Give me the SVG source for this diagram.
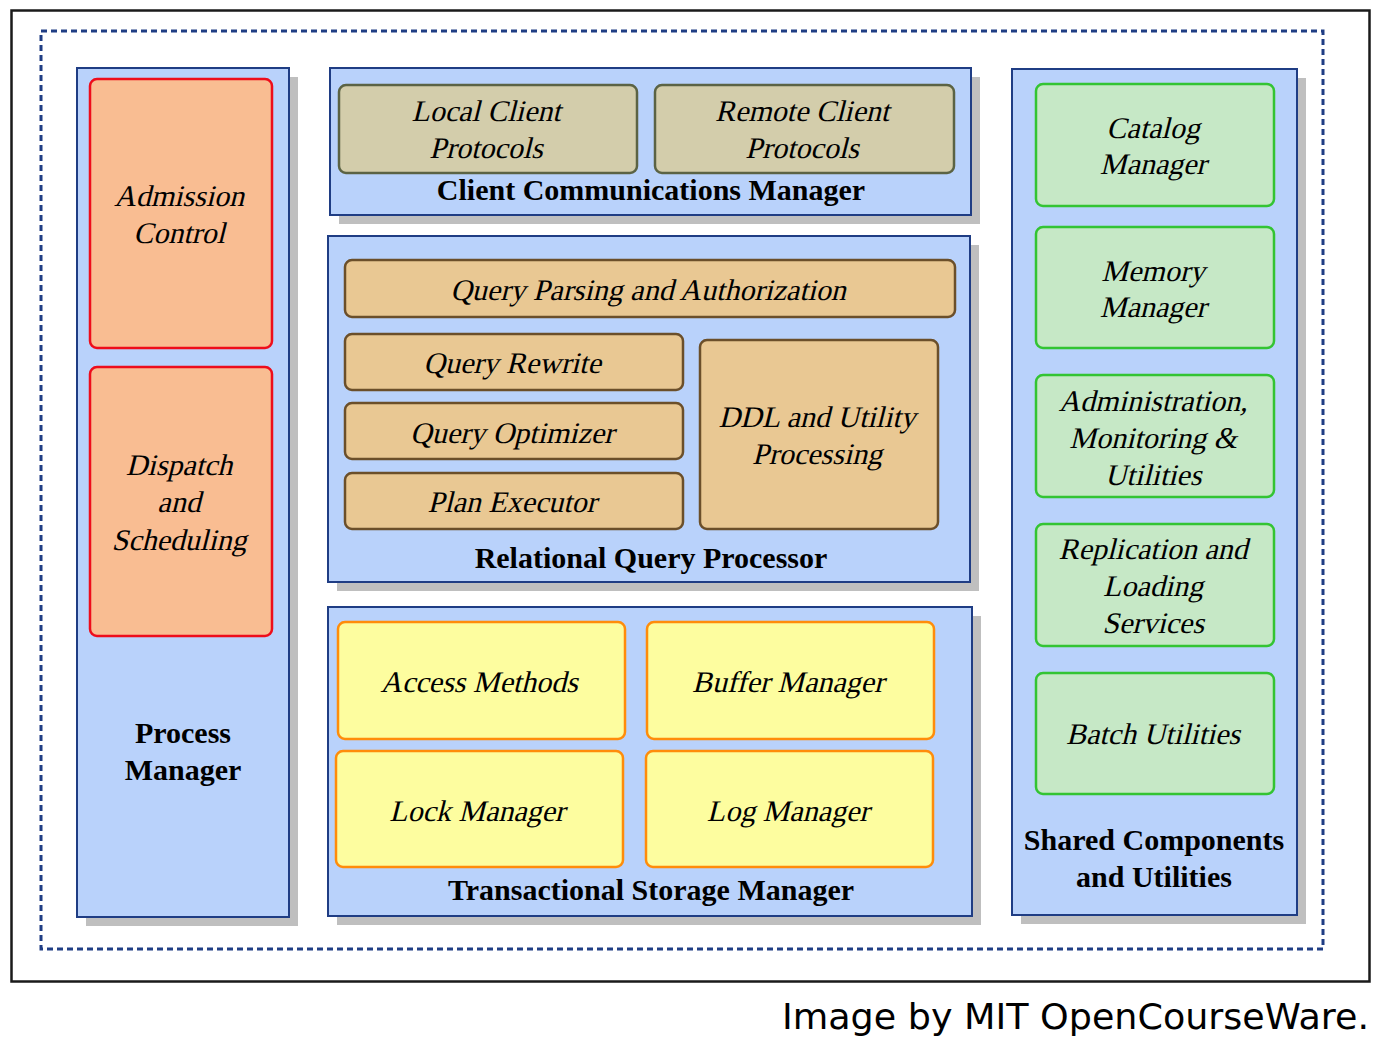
<svg xmlns="http://www.w3.org/2000/svg" width="1385" height="1045" viewBox="0 0 1385 1045">
<style>
.panel{fill:#b9d2fb;stroke:#1f3d84;stroke-width:2}
.shadow{fill:#bfbfbf}
.red{fill:#f9bd92;stroke:#ee0d1b;stroke-width:2.5}
.olive{fill:#d3cdab;stroke:#5b6344;stroke-width:2.5}
.tan{fill:#e9c893;stroke:#6b4f2a;stroke-width:2.5}
.yel{fill:#fdfd9f;stroke:#ff8c0a;stroke-width:2.5}
.grn{fill:#c6e8c6;stroke:#33c433;stroke-width:2.5}
.it{font-family:"Liberation Serif","Times New Roman",serif;font-size:30px;fill:#000;text-anchor:middle}
.bd{font-family:"Liberation Serif","Times New Roman",serif;font-weight:bold;font-size:30px;fill:#000;text-anchor:middle}
</style>
<rect x="0" y="0" width="1385" height="1045" fill="#ffffff"/>
<rect x="11.5" y="10.5" width="1358" height="971" fill="#ffffff" stroke="#1a1a1a" stroke-width="2.5"/>
<rect x="41" y="31" width="1282" height="918" fill="none" stroke="#1f3d84" stroke-width="3" stroke-dasharray="6 4"/>

<g id="process-manager">
<rect class="shadow" x="86" y="77" width="212" height="849"/>
<rect class="panel" x="77" y="68" width="212" height="849"/>
<text class="bd" x="183" y="743">Process</text>
<text class="bd" x="183" y="780">Manager</text>
</g>
<g id="admission-control">
<rect class="red" x="90" y="79" width="182" height="269" rx="7"/>
<text class="it" transform="translate(179,206) skewX(-14)">Admission</text>
<text class="it" transform="translate(179,243) skewX(-14)">Control</text>
</g>
<g id="dispatch-scheduling">
<rect class="red" x="90" y="367" width="182" height="269" rx="7"/>
<text class="it" transform="translate(179,475) skewX(-14)">Dispatch</text>
<text class="it" transform="translate(179,512) skewX(-14)">and</text>
<text class="it" transform="translate(179,550) skewX(-14)">Scheduling</text>
</g>

<g id="client-communications-manager">
<rect class="shadow" x="339" y="77" width="641" height="147"/>
<rect class="panel" x="330" y="68" width="641" height="147"/>
<text class="bd" x="651" y="200">Client Communications Manager</text>
</g>
<g id="local-client-protocols">
<rect class="olive" x="339" y="85" width="298" height="88" rx="7"/>
<text class="it" transform="translate(486,121) skewX(-14)">Local Client</text>
<text class="it" transform="translate(486,158) skewX(-14)">Protocols</text>
</g>
<g id="remote-client-protocols">
<rect class="olive" x="655" y="85" width="299" height="88" rx="7"/>
<text class="it" transform="translate(802,121) skewX(-14)">Remote Client</text>
<text class="it" transform="translate(802,158) skewX(-14)">Protocols</text>
</g>

<g id="relational-query-processor">
<rect class="shadow" x="337" y="245" width="642" height="346"/>
<rect class="panel" x="328" y="236" width="642" height="346"/>
<text class="bd" x="651" y="568">Relational Query Processor</text>
</g>
<g id="query-parsing">
<rect class="tan" x="345" y="260" width="610" height="57" rx="7"/>
<text class="it" transform="translate(648,300) skewX(-14)">Query Parsing and Authorization</text>
</g>
<g id="query-rewrite">
<rect class="tan" x="345" y="334" width="338" height="56" rx="7"/>
<text class="it" transform="translate(512,373) skewX(-14)">Query Rewrite</text>
</g>
<g id="query-optimizer">
<rect class="tan" x="345" y="403" width="338" height="56" rx="7"/>
<text class="it" transform="translate(512,443) skewX(-14)">Query Optimizer</text>
</g>
<g id="plan-executor">
<rect class="tan" x="345" y="473" width="338" height="56" rx="7"/>
<text class="it" transform="translate(512,512) skewX(-14)">Plan Executor</text>
</g>
<g id="ddl-utility">
<rect class="tan" x="700" y="340" width="238" height="189" rx="7"/>
<text class="it" transform="translate(817,427) skewX(-14)">DDL and Utility</text>
<text class="it" transform="translate(817,464) skewX(-14)">Processing</text>
</g>

<g id="transactional-storage-manager">
<rect class="shadow" x="337" y="616" width="644" height="309"/>
<rect class="panel" x="328" y="607" width="644" height="309"/>
<text class="bd" x="651" y="900">Transactional Storage Manager</text>
</g>
<g id="access-methods">
<rect class="yel" x="338" y="622" width="287" height="117" rx="7"/>
<text class="it" transform="translate(479,692) skewX(-14)">Access Methods</text>
</g>
<g id="buffer-manager">
<rect class="yel" x="647" y="622" width="287" height="117" rx="7"/>
<text class="it" transform="translate(788,692) skewX(-14)">Buffer Manager</text>
</g>
<g id="lock-manager">
<rect class="yel" x="336" y="751" width="287" height="116" rx="7"/>
<text class="it" transform="translate(477,821) skewX(-14)">Lock Manager</text>
</g>
<g id="log-manager">
<rect class="yel" x="646" y="751" width="287" height="116" rx="7"/>
<text class="it" transform="translate(788,821) skewX(-14)">Log Manager</text>
</g>

<g id="shared-components">
<rect class="shadow" x="1021" y="78" width="285" height="846"/>
<rect class="panel" x="1012" y="69" width="285" height="846"/>
<text class="bd" x="1154" y="850">Shared Components</text>
<text class="bd" x="1154" y="887">and Utilities</text>
</g>
<g id="catalog-manager">
<rect class="grn" x="1036" y="84" width="238" height="122" rx="7"/>
<text class="it" transform="translate(1153,138) skewX(-14)">Catalog</text>
<text class="it" transform="translate(1153,174) skewX(-14)">Manager</text>
</g>
<g id="memory-manager">
<rect class="grn" x="1036" y="227" width="238" height="121" rx="7"/>
<text class="it" transform="translate(1153,281) skewX(-14)">Memory</text>
<text class="it" transform="translate(1153,317) skewX(-14)">Manager</text>
</g>
<g id="administration">
<rect class="grn" x="1036" y="375" width="238" height="122" rx="7"/>
<text class="it" transform="translate(1153,411) skewX(-14)">Administration,</text>
<text class="it" transform="translate(1153,448) skewX(-14)">Monitoring &amp;</text>
<text class="it" transform="translate(1153,485) skewX(-14)">Utilities</text>
</g>
<g id="replication">
<rect class="grn" x="1036" y="524" width="238" height="122" rx="7"/>
<text class="it" transform="translate(1153,559) skewX(-14)">Replication and</text>
<text class="it" transform="translate(1153,596) skewX(-14)">Loading</text>
<text class="it" transform="translate(1153,633) skewX(-14)">Services</text>
</g>
<g id="batch-utilities">
<rect class="grn" x="1036" y="673" width="238" height="121" rx="7"/>
<text class="it" transform="translate(1153,744) skewX(-14)">Batch Utilities</text>
</g>

<g id="connectors"></g>

<text x="1369" y="1029" font-family="'DejaVu Sans',Verdana,sans-serif" font-size="36" fill="#000" text-anchor="end" textLength="587" lengthAdjust="spacingAndGlyphs">Image by MIT OpenCourseWare.</text>
</svg>
